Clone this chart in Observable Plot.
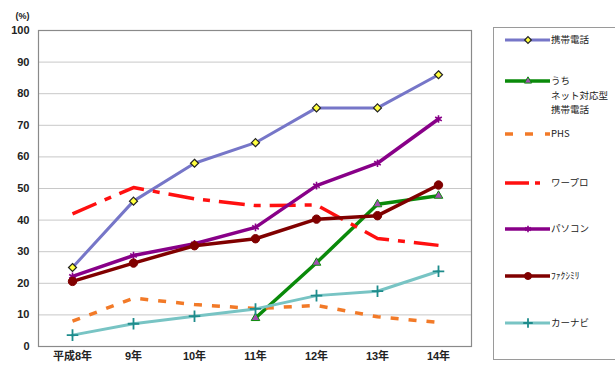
<!DOCTYPE html>
<html>
<head>
<meta charset="utf-8">
<script src="https://cdn.jsdelivr.net/npm/d3@7"></script>
<script src="https://cdn.jsdelivr.net/npm/@observablehq/plot@0.6"></script>
<style>
  html, body { margin: 0; padding: 0; background: #fff; }
  #wrap { position: relative; width: 615px; height: 367px; overflow: hidden; }
  #legend { position: absolute; left: 493px; top: 27px; }
</style>
</head>
<body>
<div id="wrap">
  <div id="chart"></div>
  <div id="legend"></div>
</div>
<script>
// Survey years (Heisei 8 to 14) and ownership rates in percent
const years = ["平成8年", "9年", "10年", "11年", "12年", "13年", "14年"];
const mobilePhone = [25, 46, 58, 64.5, 75.5, 75.5, 86];
const netMobile = [null, null, null, 9, 26.5, 45, 47.7];
const phs = [8, 15.3, 13.3, 12, 13, 9.4, 7.6];
const wordPro = [42, 50.3, 46.7, 44.6, 44.8, 34.2, 32];
const pc = [22.2, 28.8, 32.5, 37.7, 50.9, 58, 72];
const fax = [20.6, 26.4, 31.9, 34.1, 40.3, 41.4, 51.1];
const carNavi = [3.6, 7.2, 9.6, 11.9, 16.1, 17.5, 23.8];
const yTicks = [0, 10, 20, 30, 40, 50, 60, 70, 80, 90, 100];

const seriesDefs = [
  {name: "携帯電話", values: mobilePhone, stroke: "#7676c8", width: 3, dash: null,
   symbol: "diamond2", mFill: "#ffff40", mStroke: "#222", mR: 3.6, mW: 1.2},
  {name: "うち\nネット対応型\n携帯電話", values: netMobile, stroke: "#0a8a0a", width: 3.5, dash: null,
   symbol: "triangle", mFill: "#a050b0", mStroke: "#0a8a0a", mR: 3.2, mW: 1},
  {name: "PHS", values: phs, stroke: "#f27a28", width: 3.5, dash: "8,10", symbol: null},
  {name: "ワープロ", values: wordPro, stroke: "#ff1010", width: 3.5, dash: "26,9,7,9", symbol: null},
  {name: "パソコン", values: pc, stroke: "#880088", width: 3.5, dash: null,
   symbol: "asterisk", mFill: "none", mStroke: "#880088", mR: 3.6, mW: 1.6},
  {name: "ﾌｧｸｼﾐﾘ", values: fax, stroke: "#800000", width: 3.5, dash: null,
   symbol: "circle", mFill: "#800000", mStroke: "#800000", mR: 4.2, mW: 1},
  {name: "カーナビ", values: carNavi, stroke: "#78c4c4", width: 3, dash: null,
   symbol: "plus", mFill: "none", mStroke: "#1e8c8c", mR: 3.8, mW: 1.8}
];

const rows = s => years.map((year, i) => ({year, value: s.values[i]}));

const marks = [
  Plot.gridY(yTicks, {stroke: "#c8c8c8", strokeOpacity: 1, strokeWidth: 1}),
  Plot.frame({stroke: "#8a8a8a", strokeWidth: 1.2}),
  Plot.axisY(yTicks, {tickSize: 0, tickPadding: 9, fontSize: 11, fontWeight: "bold",
    fill: "#222", label: null}),
  Plot.axisX({tickSize: 0, tickPadding: 6, fontSize: 11, fontWeight: "bold",
    fill: "#222", label: null}),
  Plot.text(["(%)"], {frameAnchor: "top-left", dx: -23, dy: -18, fontSize: 9, fontWeight: "bold", fill: "#222"})
];

for (const s of seriesDefs) {
  marks.push(Plot.line(rows(s), {
    x: "year", y: "value", stroke: s.stroke, strokeWidth: s.width,
    strokeDasharray: s.dash || undefined, strokeLinejoin: "round",
    strokeLinecap: s.dash ? "butt" : "round"
  }));
}
for (const s of seriesDefs) {
  if (!s.symbol) continue;
  marks.push(Plot.dot(rows(s).filter(d => d.value != null), {
    x: "year", y: "value", symbol: () => s.symbol, r: s.mR,
    fill: s.mFill, stroke: s.mStroke, strokeWidth: s.mW
  }));
}

const chart = Plot.plot({
  width: 615,
  height: 367,
  marginLeft: 38,
  marginRight: 144,
  marginTop: 30,
  marginBottom: 21,
  style: {fontFamily: "'Liberation Sans', 'Noto Sans CJK JP', sans-serif", background: "#fff"},
  x: {type: "point", domain: years, padding: 0.5, label: null},
  y: {domain: [0, 100], label: null},
  symbol: {type: "identity"},
  marks
});
document.getElementById("chart").appendChild(chart);

// Legend box on the right
const lg = d3.select("#legend").append("svg")
  .attr("width", 130).attr("height", 334)
  .style("font-family", "'Noto Sans CJK JP', sans-serif");
lg.append("rect").attr("x", 0.5).attr("y", 0.5).attr("width", 140).attr("height", 332)
  .attr("fill", "#fff").attr("stroke", "#9a9a9a");
const rowY = [13, 54, 107, 156, 202, 249, 296];
const symbolPaths = {
  diamond2: d3.symbolDiamond2, triangle: d3.symbolTriangle, asterisk: d3.symbolAsterisk,
  circle: d3.symbolCircle, plus: d3.symbolPlus
};
seriesDefs.forEach((s, i) => {
  const g = lg.append("g").attr("transform", `translate(0,${rowY[i]})`);
  g.append("line").attr("x1", 12).attr("x2", 57).attr("y1", 0).attr("y2", 0)
    .attr("stroke", s.stroke).attr("stroke-width", s.width)
    .attr("stroke-dasharray", s.name === "PHS" ? "8,12" : s.name === "ワープロ" ? "24,6,5,100" : null);
  if (s.symbol) {
    g.append("path").attr("transform", "translate(35,0)")
      .attr("d", d3.symbol(symbolPaths[s.symbol], Math.PI * s.mR * s.mR * 0.7)())
      .attr("fill", s.mFill).attr("stroke", s.mStroke).attr("stroke-width", s.mW);
  }
  const t = g.append("text").attr("x", 58).attr("y", 0).attr("font-size", 9.5)
    .attr("fill", "#222").attr("dominant-baseline", "middle");
  s.name.split("\n").forEach((line, j) => {
    t.append("tspan").attr("x", 58).attr("dy", j === 0 ? 0 : 14.5).text(line);
  });
});
</script>
</body>
</html>
